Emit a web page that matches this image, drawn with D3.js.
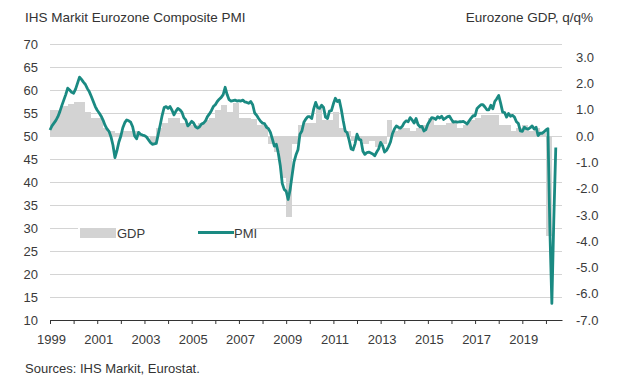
<!DOCTYPE html>
<html>
<head>
<meta charset="utf-8">
<script src="https://cdn.jsdelivr.net/npm/d3@7.9.0/dist/d3.min.js"></script>
<style>
  body { margin: 0; background: #fff; }
  svg { display: block; font-family: "Liberation Sans", Arial, sans-serif; }
  .axis text { fill: #3a3a3a; font-size: 13px; }
</style>
</head>
<body>
<svg id="chart" width="618" height="386"></svg>
<script>
// quarterly GDP, q/q %, from 1999 Q1
const gdpStart = 1999;
const gdp = [
  1.0, 1.0, 1.15, 1.2,   // 1999
  1.3, 1.3, 0.92, 0.67,  // 2000
  0.7, 0.3, 0.2, 0.1,    // 2001
  0.2, 0.2, 0.2, 0.05,   // 2002
  0.0, -0.3, 0.3, 0.5,   // 2003
  0.7, 0.7, 0.5, 0.4,    // 2004
  0.4, 0.5, 0.6, 0.7,    // 2005
  1.0, 1.18, 0.9, 1.27,  // 2006
  0.7, 0.7, 0.65, 0.42,  // 2007
  0.4, -0.3, -0.6, -1.6, // 2008
  -3.1, -0.3, 0.4, 0.5,  // 2009
  0.5, 1.1, 0.6, 0.6,    // 2010
  0.9, 0.3, 0.2, -0.2,   // 2011
  -0.2, -0.3, -0.2, -0.4,// 2012
  -0.3, 0.6, 0.2, 0.3,   // 2013
  0.3, 0.2, 0.3, 0.4,    // 2014
  0.7, 0.4, 0.4, 0.5,    // 2015
  0.6, 0.3, 0.4, 0.6,    // 2016
  0.7, 0.8, 0.8, 0.8,    // 2017
  0.4, 0.4, 0.2, 0.3,    // 2018
  0.4, 0.2, 0.3, 0.1,    // 2019
  -3.8                   // 2020
];

// monthly composite PMI, from Jan 1999
const pmi = [
  51.3, 52.2, 52.8, 53.4, 54.2, 55.3, 56.6, 57.8, 59.0, 60.4, 60.0, 59.5, // 1999
  59.3, 60.2, 61.5, 62.8, 62.3, 61.7, 61.2, 60.3, 59.6, 58.6, 57.5, 56.4, // 2000
  55.6, 55.0, 54.3, 53.4, 52.3, 51.5, 51.0, 49.8, 48.0, 45.3, 46.8, 48.7, // 2001
  50.0, 51.8, 52.9, 53.5, 53.3, 53.0, 52.0, 50.0, 49.4, 50.8, 50.4, 50.2, // 2002
  50.1, 49.8, 49.2, 48.6, 48.2, 48.3, 48.4, 50.4, 52.4, 54.5, 56.2, 56.4, // 2003
  56.0, 56.4, 55.6, 54.6, 55.4, 56.0, 55.7, 55.2, 54.0, 53.5, 52.2, 52.6, // 2004
  53.2, 52.8, 52.0, 51.7, 52.0, 52.6, 52.8, 53.3, 54.2, 54.8, 55.5, 56.4, // 2005
  56.8, 57.5, 58.0, 58.4, 59.0, 60.6, 59.0, 57.9, 57.6, 57.7, 57.8, 57.6, // 2006
  57.7, 57.6, 57.8, 57.4, 57.3, 57.1, 57.5, 56.8, 55.0, 54.5, 53.8, 53.2, // 2007
  52.8, 52.7, 51.9, 51.6, 50.8, 49.3, 47.8, 48.2, 46.3, 43.6, 39.7, 38.4, // 2008
  38.0, 36.2, 38.3, 41.4, 44.4, 45.9, 47.0, 50.4, 51.1, 53.0, 53.7, 54.2, // 2009
  54.2, 53.8, 55.9, 57.3, 56.2, 56.0, 56.7, 56.2, 54.1, 53.8, 55.4, 55.5, // 2010
  57.0, 58.2, 57.5, 57.8, 55.8, 53.3, 51.1, 50.7, 49.1, 47.2, 47.0, 48.3, // 2011
  50.4, 49.3, 49.1, 46.7, 46.0, 46.4, 46.5, 46.3, 46.1, 45.7, 46.5, 47.2, // 2012
  48.6, 47.9, 46.5, 46.9, 47.7, 48.7, 50.5, 51.5, 52.2, 51.9, 51.7, 52.1, // 2013
  52.9, 53.3, 53.1, 54.0, 53.5, 52.8, 53.8, 52.5, 52.0, 52.1, 51.1, 51.4, // 2014
  52.6, 53.3, 54.0, 53.9, 53.6, 54.2, 53.9, 54.3, 53.6, 53.9, 54.2, 54.3, // 2015
  53.6, 53.0, 53.1, 53.0, 53.1, 53.1, 53.2, 52.9, 52.6, 53.3, 53.9, 54.4, // 2016
  54.4, 56.0, 56.4, 56.8, 56.8, 56.3, 55.7, 55.7, 56.7, 55.9, 57.5, 58.1, // 2017
  58.8, 57.1, 55.2, 55.1, 54.1, 54.9, 54.3, 54.5, 54.1, 53.1, 52.7, 51.1, // 2018
  51.0, 51.9, 51.6, 51.5, 51.8, 52.2, 51.5, 51.9, 50.1, 50.6, 50.6, 50.9, // 2019
  51.3, 51.6, 29.7, 13.6, 31.9, 47.5                                      // 2020
];

const years = d3.range(1999, 2021);
const labelYears = d3.range(1999, 2020, 2);
const pmiTicks = d3.range(10, 71, 5);
const gdpTicks = d3.range(-7, 4, 1);

const svg = d3.select('#chart');
const margin = { left: 50, right: 56, top: 44, bottom: 66 };
const width = 618, height = 386;

const x = d3.scaleLinear().domain([1999, 2020.68]).range([margin.left, width - margin.right]);
const yL = d3.scaleLinear().domain([10, 70]).range([height - margin.bottom, margin.top]);
const yR = d3.scaleLinear().domain([-7, 3.5]).range([height - margin.bottom, margin.top]);

// gridlines
svg.append('g')
  .attr('transform', `translate(${margin.left},0)`)
  .call(d3.axisLeft(yL).tickValues(pmiTicks.filter(d => d > 10))
    .tickFormat('').tickSize(-(x.range()[1] - x.range()[0])).tickSizeOuter(0))
  .call(g => g.select('.domain').remove())
  .call(g => g.selectAll('line').attr('stroke', '#d4d4d4'));

// GDP bars
const quarters = gdp.map((v, i) => ({ t: gdpStart + i / 4, v }));
svg.append('g')
  .selectAll('rect')
  .data(quarters)
  .join('rect')
  .attr('x', d => x(d.t))
  .attr('width', d => x(d.t + 0.25) - x(d.t))
  .attr('y', d => yR(Math.max(0, d.v)))
  .attr('height', d => Math.abs(yR(d.v) - yR(0)))
  .attr('fill', '#d3d3d3')
  .attr('shape-rendering', 'crispEdges');

// PMI line
const months = pmi.map((v, i) => ({ t: 1999 + i / 12, v }));
svg.append('path')
  .datum(months)
  .attr('fill', 'none')
  .attr('stroke', '#1a8a82')
  .attr('stroke-width', 2.8)
  .attr('stroke-linejoin', 'round')
  .attr('d', d3.line().x(d => x(d.t)).y(d => yL(d.v)));

// left axis labels
svg.append('g')
  .attr('class', 'axis')
  .attr('transform', `translate(${margin.left - 8},0)`)
  .call(d3.axisLeft(yL).tickValues(pmiTicks).tickSize(0).tickPadding(4))
  .call(g => g.select('.domain').remove());

// right axis labels
svg.append('g')
  .attr('class', 'axis')
  .attr('transform', `translate(${width - margin.right + 10},0)`)
  .call(d3.axisRight(yR).tickValues(gdpTicks).tickSize(0).tickPadding(4)
    .tickFormat(d => d.toFixed(1)))
  .call(g => g.select('.domain').remove());

// x axis
svg.append('g')
  .attr('class', 'axis')
  .attr('transform', `translate(0,${yL(10)})`)
  .call(d3.axisBottom(x).tickValues(years).tickSize(4).tickSizeOuter(0)
    .tickFormat(d => labelYears.includes(d) ? String(d) : ''))
  .call(g => g.select('.domain').attr('stroke', '#333'))
  .call(g => g.selectAll('line').attr('stroke', '#333'))
  .call(g => g.selectAll('text').attr('dy', '1.3em').attr('dx', 1));

// legend
const lg = svg.append('g');
lg.append('rect').attr('x', 78).attr('y', 221).attr('width', 174).attr('height', 22).attr('fill', '#fff');
lg.append('rect').attr('x', 80).attr('y', 228).attr('width', 36).attr('height', 10).attr('fill', '#d3d3d3');
lg.append('text').attr('x', 117).attr('y', 238).attr('font-size', 13).attr('fill', '#3a3a3a').text('GDP');
lg.append('line').attr('x1', 198).attr('x2', 234).attr('y1', 232.5).attr('y2', 232.5)
  .attr('stroke', '#1a8a82').attr('stroke-width', 2.8);
lg.append('text').attr('x', 234).attr('y', 238).attr('font-size', 13).attr('fill', '#3a3a3a').text('PMI');

// titles
svg.append('text').attr('x', 25).attr('y', 22).attr('font-size', 13.5).attr('fill', '#333')
  .text('IHS Markit Eurozone Composite PMI');
svg.append('text').attr('x', 593).attr('y', 22).attr('font-size', 13.5).attr('fill', '#333')
  .attr('text-anchor', 'end').text('Eurozone GDP, q/q%');
svg.append('text').attr('x', 25).attr('y', 373).attr('font-size', 13).attr('fill', '#333')
  .text('Sources: IHS Markit, Eurostat.');
</script>
</body>
</html>
